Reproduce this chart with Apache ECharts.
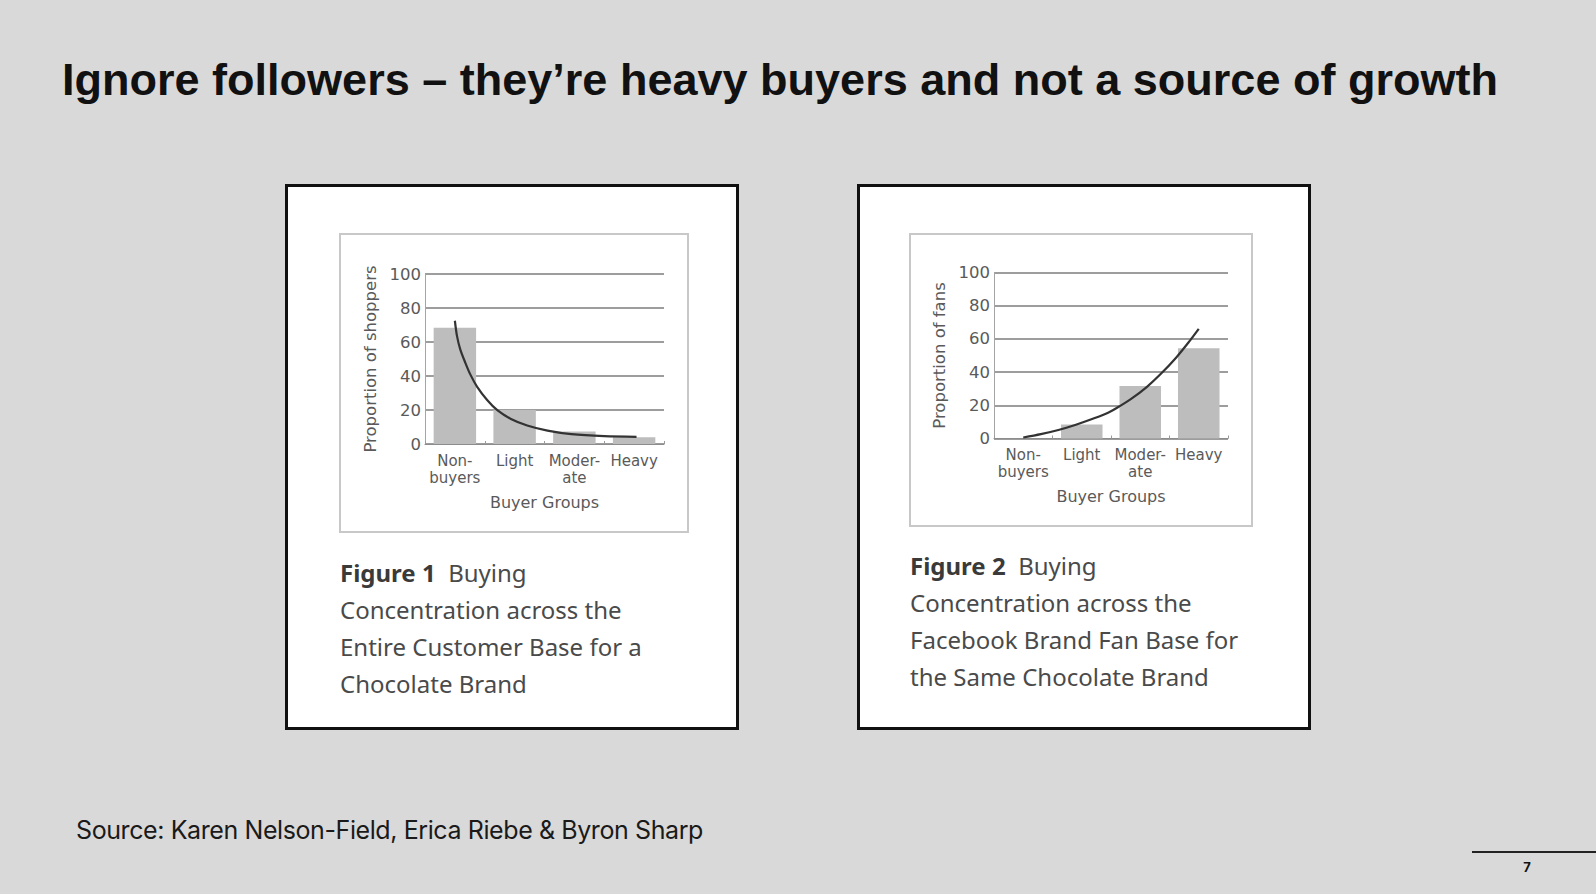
<!DOCTYPE html>
<html>
<head>
<meta charset="utf-8">
<script src="https://cdn.jsdelivr.net/npm/echarts@6.0.0/dist/echarts.min.js"></script>
<style>
  html, body { margin: 0; padding: 0; }
  body {
    width: 1596px; height: 894px; background: #d9d9d9;
    position: relative; overflow: hidden;
    font-family: 'Liberation Sans', Arial, sans-serif;
  }
  .title {
    position: absolute; left: 62px; top: 57px;
    font-size: 45px; line-height: 45px; font-weight: 700; color: #111;
    white-space: nowrap;
  }
  .card {
    position: absolute; top: 184px; width: 454px; height: 546px;
    box-sizing: border-box; background: #fff; border: 3px solid #111;
  }
  .plot {
    position: absolute; top: 233px; box-sizing: border-box;
    background: #fff; border: 2px solid #c8c8c8;
  }
  .caption {
    position: absolute; font-family: 'Noto Sans', sans-serif;
    font-size: 24px; line-height: 37px; color: #4a4a4a; white-space: nowrap;
  }
  .caption b { color: #3a3a3a; }
  .source {
    position: absolute; left: 76px; top: 815px;
    font-family: Inter, sans-serif; font-size: 25px; line-height: 30px;
    color: #1a1a1a; white-space: nowrap;
  }
  .rule { position: absolute; left: 1472px; top: 851px; width: 124px; height: 2px; background: #222; }
  .page {
    position: absolute; left: 1512px; top: 859px; width: 30px; text-align: center;
    font-family: Inter, sans-serif; font-weight: 700; font-size: 13px; line-height: 16px; color: #111;
  }
</style>
</head>
<body>
<div class="title" id="title">Ignore followers – they’re heavy buyers and not a source of growth</div>

<div class="card" style="left:285px"></div>
<div class="card" style="left:857px"></div>

<div class="plot" id="chart1" style="left:339px;width:350px;height:300px"></div>
<div class="plot" id="chart2" style="left:909px;width:344px;height:294px"></div>

<div class="caption" style="left:340px;top:554px"><b>Figure 1</b>&nbsp; Buying<br>Concentration across the<br>Entire Customer Base for a<br>Chocolate Brand</div>
<div class="caption" style="left:910px;top:547px"><b>Figure 2</b>&nbsp; Buying<br>Concentration across the<br>Facebook Brand Fan Base for<br>the Same Chocolate Brand</div>

<div class="source" id="source">Source: Karen Nelson-Field, Erica Riebe &amp; Byron Sharp</div>
<div class="rule"></div>
<div class="page">7</div>

<script>
// buyer groups on the x axis
const categories = ['Non-\nbuyers', 'Light', 'Moder-\nate', 'Heavy']

// figure 1: whole customer base
const shoppersBars = [68.4, 20, 7.3, 4]
// curve, x in category units (0 = Non-buyers centre)
const shoppersCurveX = [0, 0.035, 0.09, 0.175, 0.26, 0.37, 0.54, 0.71, 0.93, 1.21, 1.55, 1.95, 2.5, 3.04]
const shoppersCurveY = [72.5, 63.6, 55.7, 47.8, 40.8, 33.8, 25.9, 19.9, 14.9, 10.9, 7.9, 5.8, 4.6, 4.2]

// figure 2: facebook fans
const fansBars = [0, 8.5, 31.6, 54.3]
const fansCurveX = [0, 0.3, 0.6, 0.9, 1.2, 1.45, 1.65, 1.85, 2.11, 2.34, 2.62, 2.85, 3.0]
const fansCurveY = [0.6, 2.6, 5.1, 8.3, 12, 15.5, 19.5, 24, 31, 38.5, 49, 59, 66]

const textFont = 'DejaVu Sans'
const labelColor = '#5a5a5a'

function fitWidth(el, target) {
  const w = el.getBoundingClientRect().width
  const n = el.textContent.length
  el.style.letterSpacing = ((target - w) / n) + 'px'
}

function drawChart(id, opts) {
  const chart = echarts.init(document.getElementById(id), null, { renderer: 'svg' })
  chart.setOption({
    animation: false,
    grid: Object.assign({ outerBoundsMode: 'none', containLabel: false }, opts.grid),
    xAxis: [
      {
        type: 'category',
        data: categories,
        axisLine: { show: true, lineStyle: { color: '#8c8c8c', width: 1 } },
        axisTick: { show: true, inside: true, length: 3, lineStyle: { color: '#9a9a9a' } },
        axisLabel: {
          interval: 0, color: labelColor, fontFamily: textFont,
          fontSize: 15, lineHeight: 17, margin: 8,
        },
        name: 'Buyer Groups',
        nameLocation: 'middle',
        nameGap: 50,
        nameTextStyle: { color: labelColor, fontFamily: textFont, fontSize: 16 },
      },
      { type: 'value', min: -0.5, max: 3.5, show: false },
    ],
    yAxis: {
      type: 'value',
      min: 0,
      max: 100,
      interval: 20,
      axisLine: { show: true, onZero: false, lineStyle: { color: '#a5a5a5', width: 1 } },
      axisTick: { show: false },
      axisLabel: { color: labelColor, fontFamily: textFont, fontSize: 16.5, margin: 4 },
      splitLine: { show: true, lineStyle: { color: '#7d7d7d', width: 1.5 } },
      name: opts.yName,
      nameLocation: 'middle',
      nameRotate: 90,
      nameGap: opts.nameGap,
      nameTextStyle: { color: labelColor, fontFamily: textFont, fontSize: 16.5 },
    },
    series: [
      {
        type: 'bar',
        data: opts.bars,
        barCategoryGap: '29%',
        itemStyle: { color: '#bdbdbd' },
      },
      {
        type: 'line',
        xAxisIndex: 1,
        data: opts.curveX.map((x, i) => [x, opts.curveY[i]]),
        smooth: 0.3,
        symbol: 'none',
        lineStyle: { color: '#333', width: 2.2 },
      },
    ],
  })
}

drawChart('chart1', {
  grid: { left: 84, top: 39, width: 239, height: 170 },
  yName: 'Proportion of shoppers',
  nameGap: 40,
  bars: shoppersBars,
  curveX: shoppersCurveX,
  curveY: shoppersCurveY,
})

drawChart('chart2', {
  grid: { left: 83, top: 37.5, width: 234, height: 166 },
  yName: 'Proportion of fans',
  nameGap: 43,
  bars: fansBars,
  curveX: fansCurveX,
  curveY: fansCurveY,
})

document.fonts.ready.then(() => {
  fitWidth(document.getElementById('title'), 1436)
  fitWidth(document.getElementById('source'), 627)
})
</script>
</body>
</html>
